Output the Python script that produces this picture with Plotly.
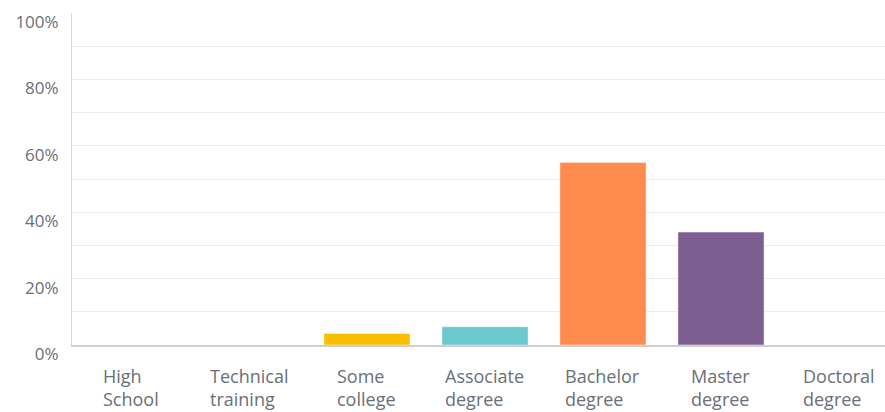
import plotly.graph_objects as go

# Education level distribution
categories = ["High<br>School", "Technical<br>training", "Some<br>college", "Associate<br>degree",
              "Bachelor<br>degree", "Master<br>degree", "Doctoral<br>degree"]
percent = [0.0, 0.0, 3.5, 5.5, 55.0, 34.0, 0.0]
bar_colors = ["#00BF6F", "#507CB6", "#F9BE00", "#6BC8CD", "#FF8B4F", "#7D5E90", "#F05B24"]
y_ticks = [0, 20, 40, 60, 80, 100]
y_tick_labels = ["0%", "20%", "40%", "60%", "80%", "100%"]

text_color = "#6A6F77"
font_family = "Open Sans"

fig = go.Figure(
    go.Bar(
        x=list(range(len(categories))),
        y=percent,
        marker=dict(color=bar_colors, line=dict(color="rgba(255,255,255,0.45)", width=1)),
        width=0.73,
        hoverinfo="skip",
    )
)

# Category labels: two-line, left-aligned text blocks centred under each bar
for i, label in enumerate(categories):
    fig.add_annotation(
        x=i, xref="x", y=0, yref="paper",
        text=label, showarrow=False,
        xanchor="center", yanchor="top", align="left",
        yshift=-17,
        font=dict(family=font_family, size=18, color=text_color),
    )

fig.update_layout(
    width=885, height=412,
    margin=dict(l=72, r=0, t=13, b=67),
    paper_bgcolor="white",
    plot_bgcolor="white",
    showlegend=False,
    font=dict(family=font_family, size=17, color=text_color),
)

fig.update_xaxes(
    range=[-0.5, 6.39],
    showticklabels=False,
    showgrid=False,
    zeroline=False,
    showline=True, linecolor="#CFCFCF", linewidth=1.5,
)

fig.update_yaxes(
    range=[0, 100],
    tickvals=y_ticks, ticktext=y_tick_labels,
    showgrid=True, gridcolor="#ECECEC", gridwidth=1,
    minor=dict(dtick=10, showgrid=True, gridcolor="#ECECEC", gridwidth=1),
    zeroline=False,
    showline=True, linecolor="#D6D6D6", linewidth=1,
    ticks="", ticklabelstandoff=9, ticklabelshift=9,
    tickfont=dict(family=font_family, size=17, color=text_color),
)

fig.write_html("out.html")
